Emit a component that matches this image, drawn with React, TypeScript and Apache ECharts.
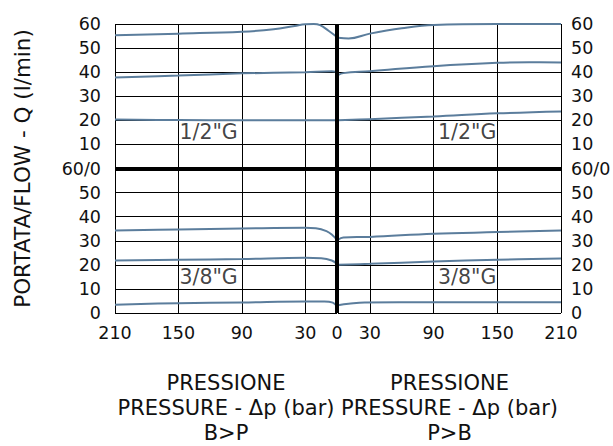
import React, { useEffect, useRef } from "react";
import * as echarts from "echarts";

// Pressure ticks (bar)
const pressureTicks = [0, 30, 90, 150, 210];
// Flow axis (two stacked panels of 0..60, combined 0..120)
const panelOffset = 60;

// 1/2"G (top panel), B>P side (left)
const topA_BP = [[210, 55.3], [150, 56], [90, 56.8], [60, 57.8], [40, 59.2], [30, 59.9], [22, 60], [16, 59.5], [8, 57.2], [0, 54.6]];
const topB_BP = [[210, 37.8], [150, 38.6], [90, 39.5], [30, 40], [5, 40.4], [2, 40.2], [0, 39.5]];
const topC_BP = [[210, 20.3], [150, 20.1], [90, 20], [30, 20], [0, 20]];
// 1/2"G, P>B side (right)
const topA_PB = [[0, 54.3], [10, 54], [30, 56], [60, 58.2], [90, 59.6], [150, 60], [210, 60]];
const topB_PB = [[0, 38.8], [5, 39.6], [30, 40.4], [90, 42.5], [150, 43.9], [180, 44.1], [210, 44]];
const topC_PB = [[0, 20], [30, 20.5], [90, 21.6], [150, 22.9], [210, 23.7]];

// 3/8"G (bottom panel), B>P side
const botD_BP = [[210, 34.3], [150, 34.7], [90, 35.1], [30, 35.4], [20, 35.2], [10, 34], [4, 32.2], [0, 30.4]];
const botE_BP = [[210, 21.8], [150, 22.1], [90, 22.4], [30, 22.9], [15, 22.7], [5, 21.8], [0, 20.4]];
const botF_BP = [[210, 3.4], [150, 4.1], [90, 4.4], [30, 4.8], [12, 4.8], [4, 4.3], [0, 2.8]];
// 3/8"G, P>B side
const botD_PB = [[0, 30.4], [5, 31.4], [30, 31.6], [90, 32.9], [150, 33.6], [210, 34.3]];
const botE_PB = [[0, 20], [30, 20.4], [90, 21.4], [150, 22.1], [210, 22.6]];
const botF_PB = [[0, 3.2], [10, 3.8], [25, 4.4], [90, 4.5], [150, 4.5], [210, 4.5]];

const sizeLabels = [
  { text: '1/2"G', pressure: 150, flow: 15 + panelOffset },
  { text: '3/8"G', pressure: 150, flow: 15 },
];

const xName = ["PRESSIONE", "PRESSURE - Δp (bar)"];
const yName = "PORTATA/FLOW - Q (l/min)";

const FONT = "DejaVu Sans";
const LINE_COLOR = "#5b7d9c";
const GRID_COLOR = "#000";

const shift = (arr: number[][]) => arr.map(([x, y]) => [x, y + panelOffset]);

export default function App() {
  const ref = useRef<HTMLDivElement>(null);
  useEffect(() => {
    if (!ref.current) return;
    const chart = echarts.init(ref.current, null, { renderer: "svg" });

    const mkLine = (data: number[][], gi: number) => ({
      type: "line",
      xAxisIndex: gi,
      yAxisIndex: gi,
      data,
      smooth: 0.4,
      symbol: "none",
      lineStyle: { color: LINE_COLOR, width: 2 },
      z: 3,
    });

    const xAxisBase = (gi: number) => ({
      type: "value",
      gridIndex: gi,
      min: 0,
      max: 210,
      inverse: gi === 0,
      axisLine: { show: false },
      axisTick: { show: false, customValues: pressureTicks },
      axisLabel: {
        customValues: gi === 0 ? pressureTicks : pressureTicks.filter((v) => v !== 0),
        fontFamily: FONT,
        fontSize: 17.5,
        color: "#111",
        margin: 11,
      },
      splitLine: { show: true, lineStyle: { color: GRID_COLOR, width: 1 } },
      name: xName.join("\n") + "\n" + (gi === 0 ? "B>P" : "P>B"),
      nameLocation: "middle",
      nameGap: 57,
      nameTextStyle: { fontFamily: FONT, fontSize: 21, color: "#111", lineHeight: 25 },
    });

    const yAxisBase = (gi: number) => ({
      type: "value",
      gridIndex: gi,
      min: 0,
      max: 120,
      interval: 10,
      position: gi === 0 ? "left" : "right",
      axisLine: { show: false },
      axisTick: { show: false },
      axisLabel: {
        fontFamily: FONT,
        fontSize: 17.5,
        color: "#111",
        margin: gi === 0 ? 14 : 10,
        formatter: (v: number) => (v === panelOffset ? "60/0" : String(v > panelOffset ? v - panelOffset : v)),
      },
      splitLine: { show: true, lineStyle: { color: GRID_COLOR, width: 1 } },
      name: gi === 0 ? yName : "",
      nameLocation: "middle",
      nameGap: 82,
      nameTextStyle: { fontFamily: FONT, fontSize: 21.5, color: "#111" },
    });

    const labelSeries = (gi: number) => ({
      type: "scatter",
      xAxisIndex: gi,
      yAxisIndex: gi,
      symbolSize: 0,
      data: sizeLabels.map((l) => ({ value: [l.pressure, l.flow], name: l.text })),
      label: {
        show: true,
        formatter: (p: any) => p.name,
        position: gi === 0 ? "right" : "left",
        distance: 1,
        fontFamily: FONT,
        fontSize: 20.5,
        color: "#111",
      },
      z: 4,
    });

    const option: any = {
      animation: false,
      backgroundColor: "#fff",
      grid: [
        { left: 115, width: 222, top: 24, height: 289, outerBoundsMode: "none", containLabel: false },
        { left: 338, width: 223, top: 24, height: 289, outerBoundsMode: "none", containLabel: false },
      ],
      xAxis: [xAxisBase(0), xAxisBase(1)],
      yAxis: [yAxisBase(0), yAxisBase(1)],
      series: [
        mkLine(shift(topA_BP), 0),
        mkLine(shift(topB_BP), 0),
        mkLine(shift(topC_BP), 0),
        mkLine(botD_BP, 0),
        mkLine(botE_BP, 0),
        mkLine(botF_BP, 0),
        mkLine(shift(topA_PB), 1),
        mkLine(shift(topB_PB), 1),
        mkLine(shift(topC_PB), 1),
        mkLine(botD_PB, 1),
        mkLine(botE_PB, 1),
        mkLine(botF_PB, 1),
        labelSeries(0),
        labelSeries(1),
        {
          type: "line",
          xAxisIndex: 0,
          yAxisIndex: 0,
          data: [],
          markLine: {
            silent: true,
            symbol: "none",
            label: { show: false },
            lineStyle: { color: "#000", width: 4, type: "solid" },
            data: [{ xAxis: 0 }, { yAxis: panelOffset }],
          },
          z: 5,
        },
        {
          type: "line",
          xAxisIndex: 1,
          yAxisIndex: 1,
          data: [],
          markLine: {
            silent: true,
            symbol: "none",
            label: { show: false },
            lineStyle: { color: "#000", width: 4, type: "solid" },
            data: [{ yAxis: panelOffset }],
          },
          z: 5,
        },
      ],
    };
    chart.setOption(option);
    return () => chart.dispose();
  }, []);
  return (
    <div
      ref={ref}
      style={{ position: "fixed", left: 0, top: 0, width: 613, height: 446 }}
    />
  );
}
